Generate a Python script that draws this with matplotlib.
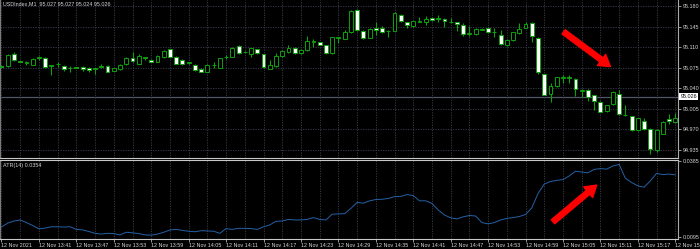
import numpy as np
import matplotlib
matplotlib.use('Agg')
import matplotlib.pyplot as plt
import matplotlib.transforms as mtransforms

plt.rcParams['font.family'] = ['Liberation Sans', 'DejaVu Sans']

# USDIndex M1 candles, 12 Nov 2021 13:35 .. 15:23
opens = [
    95.078, 95.078, 95.098, 95.086, 95.083, 95.080, 95.092, 95.092, 95.078, 95.081,
    95.078, 95.074, 95.076, 95.077, 95.074, 95.073, 95.077, 95.078, 95.070, 95.072,
    95.081, 95.092, 95.082, 95.092, 95.088, 95.085, 95.093, 95.106, 95.094, 95.088,
    95.083, 95.080, 95.073, 95.068, 95.079, 95.075, 95.093, 95.094, 95.112, 95.102,
    95.098, 95.106, 95.098, 95.073, 95.078, 95.095, 95.101, 95.109, 95.100, 95.105,
    95.119, 95.118, 95.113, 95.100, 95.126, 95.124, 95.135, 95.174, 95.138, 95.126,
    95.143, 95.143, 95.137, 95.138, 95.165, 95.152, 95.146, 95.153, 95.152, 95.160,
    95.158, 95.158, 95.152, 95.152, 95.148, 95.133, 95.132, 95.140, 95.143, 95.135,
    95.131, 95.113, 95.122, 95.134, 95.143, 95.151, 95.125, 95.064, 95.030, 95.044,
    95.058, 95.058, 95.055, 95.036, 95.037, 95.028, 95.017, 95.001, 95.013, 95.031,
    94.994, 94.992, 94.969, 94.985, 94.971, 94.935, 94.963, 94.988, 94.983]
highs = [
    95.079, 95.098, 95.102, 95.087, 95.087, 95.092, 95.095, 95.093, 95.080, 95.084,
    95.080, 95.078, 95.077, 95.078, 95.077, 95.075, 95.082, 95.080, 95.075, 95.081,
    95.093, 95.102, 95.098, 95.094, 95.089, 95.096, 95.105, 95.107, 95.095, 95.089,
    95.085, 95.082, 95.074, 95.081, 95.085, 95.092, 95.096, 95.110, 95.113, 95.103,
    95.109, 95.107, 95.099, 95.088, 95.100, 95.105, 95.114, 95.110, 95.106, 95.129,
    95.123, 95.119, 95.114, 95.128, 95.128, 95.139, 95.173, 95.175, 95.139, 95.142,
    95.153, 95.146, 95.139, 95.169, 95.166, 95.153, 95.155, 95.162, 95.163, 95.161,
    95.165, 95.159, 95.159, 95.153, 95.151, 95.146, 95.142, 95.143, 95.144, 95.142,
    95.139, 95.123, 95.136, 95.151, 95.152, 95.152, 95.128, 95.065, 95.049, 95.060,
    95.063, 95.063, 95.057, 95.038, 95.038, 95.029, 95.018, 95.012, 95.035, 95.037,
    95.011, 94.993, 94.990, 94.989, 94.972, 94.970, 94.984, 94.997, 94.998]
lows = [
    95.075, 95.076, 95.086, 95.084, 95.080, 95.079, 95.088, 95.074, 95.063, 95.077,
    95.070, 95.068, 95.074, 95.070, 95.068, 95.064, 95.074, 95.067, 95.069, 95.071,
    95.080, 95.085, 95.081, 95.088, 95.084, 95.084, 95.092, 95.093, 95.081, 95.080,
    95.082, 95.070, 95.067, 95.067, 95.074, 95.074, 95.090, 95.093, 95.098, 95.100,
    95.094, 95.099, 95.075, 95.072, 95.077, 95.094, 95.100, 95.099, 95.099, 95.104,
    95.111, 95.113, 95.099, 95.099, 95.117, 95.123, 95.134, 95.138, 95.124, 95.125,
    95.131, 95.134, 95.128, 95.137, 95.153, 95.143, 95.145, 95.152, 95.148, 95.155,
    95.153, 95.144, 95.151, 95.138, 95.129, 95.129, 95.131, 95.139, 95.134, 95.128,
    95.113, 95.112, 95.121, 95.133, 95.142, 95.119, 95.064, 95.028, 95.017, 95.043,
    95.049, 95.049, 95.027, 95.026, 95.018, 95.003, 94.999, 95.000, 95.012, 94.995,
    94.992, 94.968, 94.968, 94.969, 94.929, 94.932, 94.962, 94.979, 94.981]
closes = [
    95.076, 95.097, 95.088, 95.085, 95.084, 95.090, 95.093, 95.076, 95.079, 95.082,
    95.073, 95.075, 95.075, 95.073, 95.071, 95.074, 95.078, 95.068, 95.074, 95.080,
    95.092, 95.086, 95.095, 95.093, 95.085, 95.095, 95.104, 95.094, 95.082, 95.082,
    95.084, 95.071, 95.068, 95.080, 95.080, 95.091, 95.094, 95.109, 95.100, 95.101,
    95.108, 95.100, 95.076, 95.079, 95.095, 95.104, 95.109, 95.100, 95.105, 95.120,
    95.120, 95.114, 95.100, 95.127, 95.127, 95.135, 95.172, 95.139, 95.125, 95.141,
    95.139, 95.136, 95.138, 95.168, 95.154, 95.148, 95.154, 95.154, 95.158, 95.156,
    95.159, 95.154, 95.153, 95.149, 95.133, 95.134, 95.141, 95.141, 95.135, 95.136,
    95.115, 95.122, 95.135, 95.141, 95.149, 95.129, 95.068, 95.029, 95.044, 95.059,
    95.059, 95.059, 95.038, 95.037, 95.026, 95.018, 95.000, 95.011, 95.034, 94.996,
    94.995, 94.969, 94.989, 94.970, 94.936, 94.969, 94.983, 94.984, 94.989]

# ATR(14)
atr = [
    0.0133, 0.0148, 0.0156, 0.0160, 0.0150, 0.0139, 0.0126, 0.0129, 0.0134, 0.0134,
    0.0133, 0.0134, 0.0124, 0.0122, 0.0116, 0.0109, 0.0106, 0.0109, 0.0108, 0.0103,
    0.0113, 0.0111, 0.0108, 0.0103, 0.0102, 0.0106, 0.0113, 0.0122, 0.0124, 0.0120,
    0.0117, 0.0115, 0.0119, 0.0118, 0.0117, 0.0109, 0.0127, 0.0124, 0.0128, 0.0128,
    0.0127, 0.0124, 0.0134, 0.0141, 0.0155, 0.0156, 0.0162, 0.0160, 0.0160, 0.0162,
    0.0169, 0.0162, 0.0160, 0.0182, 0.0183, 0.0184, 0.0204, 0.0227, 0.0224, 0.0233,
    0.0238, 0.0239, 0.0242, 0.0249, 0.0250, 0.0257, 0.0253, 0.0233, 0.0233, 0.0223,
    0.0198, 0.0179, 0.0168, 0.0164, 0.0172, 0.0177, 0.0175, 0.0150, 0.0145, 0.0150,
    0.0160, 0.0166, 0.0169, 0.0173, 0.0181, 0.0206, 0.0261, 0.0297, 0.0307, 0.0311,
    0.0314, 0.0328, 0.0346, 0.0343, 0.0340, 0.0353, 0.0356, 0.0354, 0.0366, 0.0372,
    0.0319, 0.0303, 0.0290, 0.0285, 0.0309, 0.0338, 0.0333, 0.0335, 0.0332]

time_labels = ['12 Nov 2021', '12 Nov 13:41', '12 Nov 13:47', '12 Nov 13:53',
               '12 Nov 13:59', '12 Nov 14:05', '12 Nov 14:11', '12 Nov 14:17',
               '12 Nov 14:23', '12 Nov 14:29', '12 Nov 14:35', '12 Nov 14:41',
               '12 Nov 14:47', '12 Nov 14:53', '12 Nov 14:59', '12 Nov 15:05',
               '12 Nov 15:11', '12 Nov 15:17', '12 Nov 15:23']
price_ticks = [95.180, 95.145, 95.110, 95.075, 95.040, 95.005, 94.970, 94.935]
atr_ticks = [0.0385, 0.0095]
bid = 95.026
title = 'USDIndex,M1  95.027 95.027 95.024 95.026'
atr_title = 'ATR(14) 0.0354'

o = np.array(opens)
h = np.array(highs)
l = np.array(lows)
c = np.array(closes)
idx = np.arange(len(o))

green = '#0ea00e'
gridc = '#3a3f4c'
txtc = '#d4d4d4'
fs = 3.9

fig = plt.figure(figsize=(7, 2.49), dpi=100, facecolor='black')
ax = fig.add_axes([0, 0.3655, 0.968, 0.6345])
ax2 = fig.add_axes([0, 0.0402, 0.968, 0.3172])

for a in (ax, ax2):
    a.set_facecolor('black')
    a.set_xlim(-0.24, 108.37)
    a.yaxis.tick_right()
    a.tick_params(axis='y', length=2, width=0.6, color='#b0b0b0',
                  labelcolor=txtc, labelsize=fs, pad=1.5)
    a.spines['left'].set_color('#7a7a7a')
    a.spines['right'].set_color('#a8a8a8')
    a.spines['top'].set_color('#c8c8c8')
    a.spines['bottom'].set_color('#c8c8c8')

# candles
bull = c >= o
ax.vlines(idx, l, h, color=green, lw=0.8, zorder=2)
ax.bar(idx, np.maximum(np.abs(c - o), 0.0003), bottom=np.minimum(o, c), width=0.62,
       color=['black' if b else 'white' for b in bull], edgecolor=green,
       linewidth=0.7, zorder=3)
ax.axhline(bid, color='#50566a', lw=0.9, zorder=1)

ax.set_ylim(94.9214, 95.1902)
ax.set_yticks(price_ticks)
ax.set_yticklabels(['%.3f' % p for p in price_ticks])
ax.set_xticks(np.arange(0, 109, 3))
ax.tick_params(axis='x', length=0, labelbottom=False)
ax.spines['top'].set_visible(False)
ax.grid(True, color=gridc, linestyle=(0, (1.5, 1.5)), linewidth=0.6)

blend = mtransforms.blended_transform_factory(ax.transAxes, ax.transData)
ax.text(1.004, bid, '%.3f' % bid, transform=blend, color='black', fontsize=fs,
        va='center', ha='left', clip_on=False,
        bbox=dict(facecolor='white', edgecolor='none', pad=0.8))
ax.text(0.004, 0.99, title, transform=ax.transAxes, va='top', ha='left',
        color=txtc, fontsize=fs)

# ATR panel
ax2.plot(idx, atr, color='#2462a6', lw=0.7)
ax2.set_ylim(0.008735, 0.03888)
ax2.set_yticks(atr_ticks)
ax2.set_yticklabels(['%.4f' % v for v in atr_ticks])
ax2.set_xticks(np.arange(0, 109, 6))
ax2.set_xticklabels(time_labels)
ax2.set_xticks(np.arange(0, 109, 3), minor=True)
ax2.tick_params(axis='x', which='major', length=2, width=0.6, color='#b0b0b0',
                labelcolor=txtc, labelsize=fs, pad=1)
ax2.tick_params(axis='x', which='minor', length=0)
for lbl in ax2.get_xticklabels():
    lbl.set_horizontalalignment('left')
ax2.grid(True, which='both', axis='x', color=gridc, linestyle=(0, (1.5, 1.5)),
         linewidth=0.6)
ax2.text(0.004, 0.96, atr_title, transform=ax2.transAxes, va='top', ha='left',
         color=txtc, fontsize=fs)

# red arrows drawn on the chart
arrow_style = 'simple,head_width=1.0,head_length=0.8,tail_width=0.38'
ax.annotate('', xy=(97.6, 95.077), xytext=(90.1, 95.136),
            arrowprops=dict(arrowstyle=arrow_style, color='red', shrinkA=0,
                            shrinkB=0, mutation_scale=10), zorder=5)
ax2.annotate('', xy=(95.4, 0.0293), xytext=(88.4, 0.0153),
             arrowprops=dict(arrowstyle=arrow_style, color='red', shrinkA=0,
                             shrinkB=0, mutation_scale=10), zorder=5)

fig.savefig('out.png', dpi=100, facecolor='black')
